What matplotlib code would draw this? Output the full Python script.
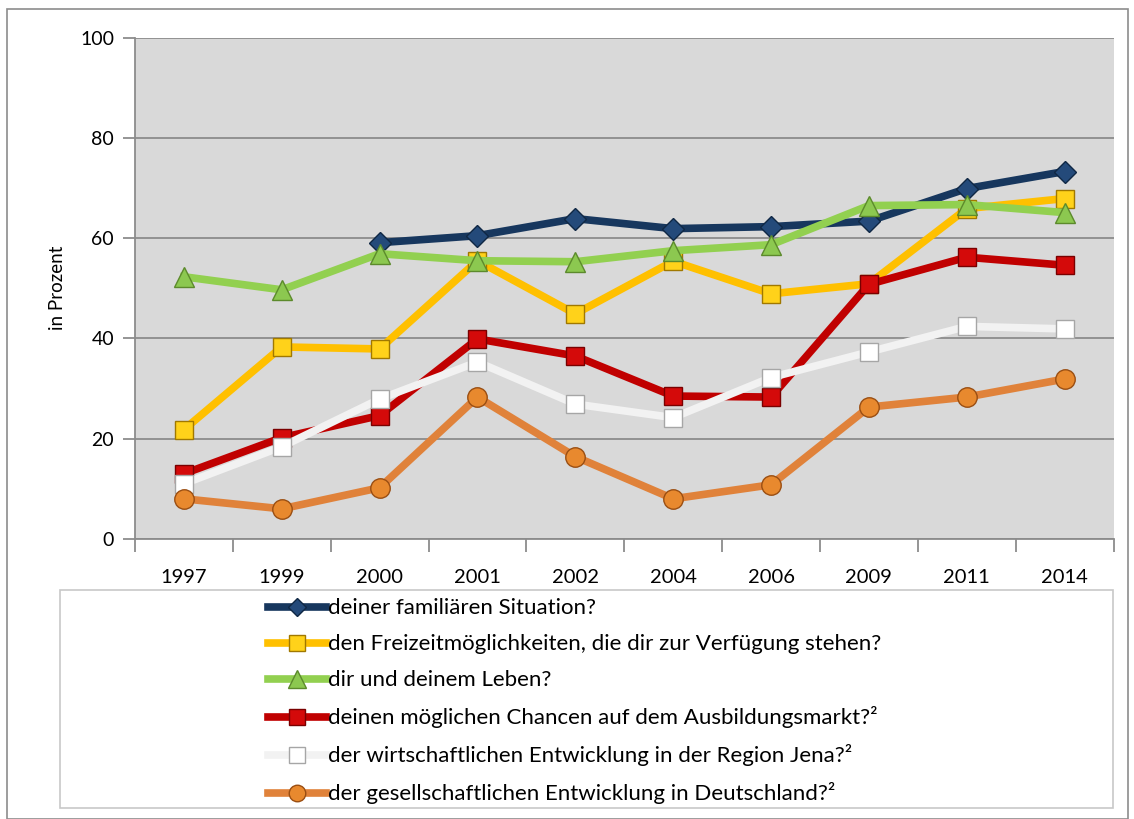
import numpy as np
import matplotlib
matplotlib.use("Agg")
import matplotlib.pyplot as plt
from matplotlib.patches import Rectangle

plt.rcParams['font.family'] = ['Lato', 'DejaVu Sans']

years = ['1997', '1999', '2000', '2001', '2002', '2004', '2006', '2009', '2011', '2014']

familie = [None, None, 59.1, 60.5, 63.9, 61.9, 62.3, 63.4, 69.9, 73.3]
freizeit = [21.8, 38.3, 37.9, 55.5, 44.9, 55.4, 48.9, 50.9, 65.9, 67.9]
leben = [52.3, 49.7, 56.9, 55.5, 55.3, 57.5, 58.7, 66.5, 66.7, 65.1]
ausbildung = [13.0, 20.2, 24.6, 39.9, 36.5, 28.5, 28.3, 50.8, 56.2, 54.6]
wirtschaft = [11.0, 18.4, 27.9, 35.3, 26.9, 24.2, 32.2, 37.3, 42.4, 41.9]
gesellschaft = [8.0, 6.0, 10.2, 28.3, 16.4, 8.0, 10.8, 26.3, 28.3, 31.9]

labels = [
    'deiner familiären Situation?',
    'den Freizeitmöglichkeiten, die dir zur Verfügung stehen?',
    'dir und deinem Leben?',
    'deinen möglichen Chancen auf dem Ausbildungsmarkt?²',
    'der wirtschaftlichen Entwicklung in der Region Jena?²',
    'der gesellschaftlichen Entwicklung in Deutschland?²',
]

series = [familie, freizeit, leben, ausbildung, wirtschaft, gesellschaft]
colors = ['#17375e', '#ffc000', '#92d050', '#c00000', '#f2f2f2', '#e0823a']
face = ['#244a7a', '#ffd21a', '#8cc850', '#d40a0a', '#ffffff', '#e8892e']
edges = ['#0f2744', '#a07800', '#5c8a2c', '#7a0000', '#a6a6a6', '#9a4e12']
markers = ['D', 's', '^', 's', 's', 'o']
msizes = [11, 13.5, 15, 13.5, 13.5, 14]

fig = plt.figure(figsize=(11.34, 8.19), dpi=100)
fig.patches.append(Rectangle((7 / 1134, 0), 1121 / 1134, 810 / 819, transform=fig.transFigure,
                             fill=False, edgecolor='#8c8c8c', linewidth=1.2))

ax = fig.add_axes([0.119, 0.342, 0.863, 0.612])
ax.set_facecolor('#d9d9d9')

x = np.arange(len(years))
handles = []
for vals, c, fc, ec, m, ms, lab in zip(series, colors, face, edges, markers, msizes, labels):
    y = np.array([np.nan if v is None else v for v in vals])
    h, = ax.plot(x, y, color=c, linewidth=5.5, marker=m, markersize=ms,
                 markerfacecolor=fc, markeredgecolor=ec, markeredgewidth=1.0,
                 label=lab, zorder=3, solid_joinstyle='round')
    handles.append(h)

ax.set_xlim(-0.5, len(years) - 0.5)
ax.set_ylim(0, 100)
ax.set_yticks([0, 20, 40, 60, 80, 100])
ax.yaxis.grid(True, color='#8c8c8c', linewidth=1.3)
ax.set_axisbelow(True)

ax.set_xticks(x)
ax.set_xticklabels(years, fontsize=14.5)
ax.set_xticks(np.arange(-0.5, len(years)), minor=True)
ax.tick_params(axis='x', which='major', length=0, pad=22)
ax.tick_params(axis='x', which='minor', length=9, width=1.3, color='#8c8c8c', direction='out')
ax.tick_params(axis='y', length=9, width=1.3, color='#8c8c8c', labelsize=14, pad=6)
ax.set_ylabel('in Prozent', fontsize=13.5, labelpad=10)

for side in ['top', 'right']:
    ax.spines[side].set_visible(False)
for side in ['left', 'bottom']:
    ax.spines[side].set_color('#8c8c8c')
    ax.spines[side].set_linewidth(1.3)

# legend box
fig.patches.append(Rectangle((60 / 1134, 11 / 819), 1053 / 1134, 218 / 819, transform=fig.transFigure,
                             fill=False, edgecolor='#c8c8c8', linewidth=1.2))
fig.legend(handles, labels, loc='upper left', bbox_to_anchor=(264 / 1134, 1 - 594 / 819),
           frameon=False, fontsize=16, handlelength=2.6, handletextpad=0.1,
           labelspacing=0.72, borderaxespad=0, borderpad=0.2, numpoints=1, markerscale=0.85)

fig.savefig('out.png', dpi=100)
